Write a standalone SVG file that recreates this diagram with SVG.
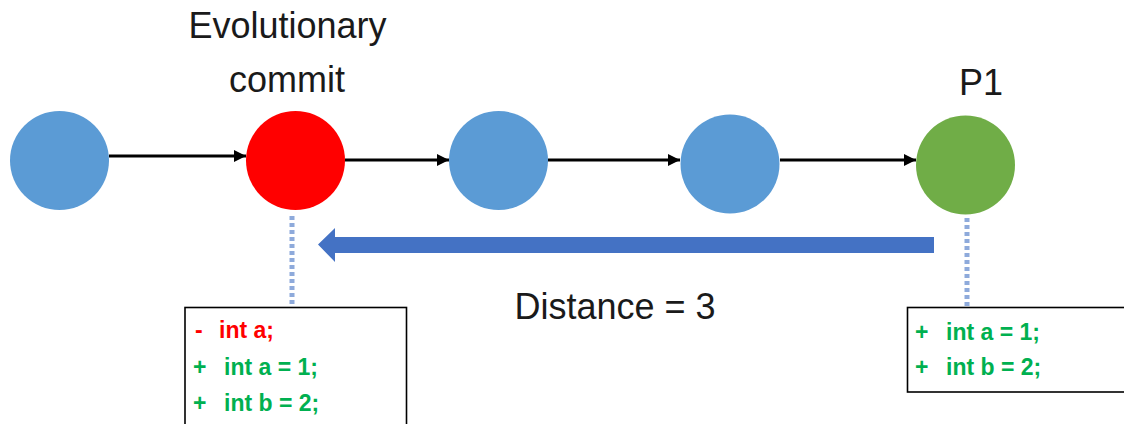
<svg xmlns="http://www.w3.org/2000/svg" width="1124" height="424" viewBox="0 0 1124 424">
  <style>
    .label { font-family: "Liberation Sans", Arial, sans-serif; font-size: 36px; fill: #1a1a1a; }
    .code { font-family: "Liberation Sans", Arial, sans-serif; font-size: 23px; font-weight: bold; }
    .add { fill: #00b050; }
    .del { fill: #ff0000; }
    .edge { stroke: #000; stroke-width: 3; fill: none; marker-end: url(#tip); }
    .dots { stroke: #8eaadb; stroke-width: 5; stroke-dasharray: 4 3; fill: none; }
    .box { fill: #fff; stroke: #000; stroke-width: 1.6; }
  </style>
  <defs>
    <marker id="tip" viewBox="0 0 10 10" refX="10" refY="5" markerWidth="4" markerHeight="4" markerUnits="strokeWidth" orient="auto">
      <path d="M0,0 L10,5 L0,10 z" fill="#000"/>
    </marker>
  </defs>

  <!-- commit-to-commit edges -->
  <g id="connectors">
    <line class="edge" x1="109" y1="156" x2="246" y2="156"/>
    <line class="edge" x1="345" y1="160" x2="449" y2="160"/>
    <line class="edge" x1="548" y1="160" x2="680" y2="160"/>
    <line class="edge" x1="780" y1="160" x2="916" y2="160"/>
    <!-- leaders from commits to their diff boxes -->
    <line class="dots" x1="292" y1="216" x2="292" y2="308"/>
    <line class="dots" x1="967" y1="218" x2="967" y2="308"/>
    <!-- distance arrow -->
    <path d="M934,237 L335,237 L335,228 L318,244.5 L335,262 L335,253 L934,253 z" fill="#4472c4"/>
  </g>

  <g id="commit-1">
    <circle cx="59.5" cy="160.5" r="49.5" fill="#5b9bd5"/>
  </g>

  <g id="commit-evolutionary">
    <circle cx="295.5" cy="160.5" r="49.5" fill="#ff0000"/>
    <text class="label" x="287.5" y="38" text-anchor="middle">Evolutionary</text>
    <text class="label" x="287" y="92" text-anchor="middle">commit</text>
  </g>

  <g id="commit-3">
    <circle cx="498.5" cy="160.5" r="49.5" fill="#5b9bd5"/>
  </g>

  <g id="commit-4">
    <circle cx="730" cy="164" r="49.5" fill="#5b9bd5"/>
  </g>

  <g id="commit-p1">
    <circle cx="965.5" cy="165" r="49.5" fill="#70ad47"/>
    <text class="label" x="981" y="95" text-anchor="middle">P1</text>
  </g>

  <g id="distance-label">
    <text class="label" x="615" y="319" text-anchor="middle">Distance = 3</text>
  </g>

  <g id="diff-evolutionary">
    <rect class="box" x="185" y="307.5" width="221.5" height="130"/>
    <text class="code del" x="195" y="338">-</text>
    <text class="code del" x="219" y="338">int a;</text>
    <text class="code add" x="193" y="375">+</text>
    <text class="code add" x="224" y="375">int a = 1;</text>
    <text class="code add" x="193" y="411">+</text>
    <text class="code add" x="224" y="411">int b = 2;</text>
  </g>

  <g id="diff-p1">
    <rect class="box" x="907.5" y="307.5" width="230" height="84.5"/>
    <text class="code add" x="915" y="340">+</text>
    <text class="code add" x="946" y="340">int a = 1;</text>
    <text class="code add" x="915" y="375">+</text>
    <text class="code add" x="946" y="375">int b = 2;</text>
  </g>
</svg>
